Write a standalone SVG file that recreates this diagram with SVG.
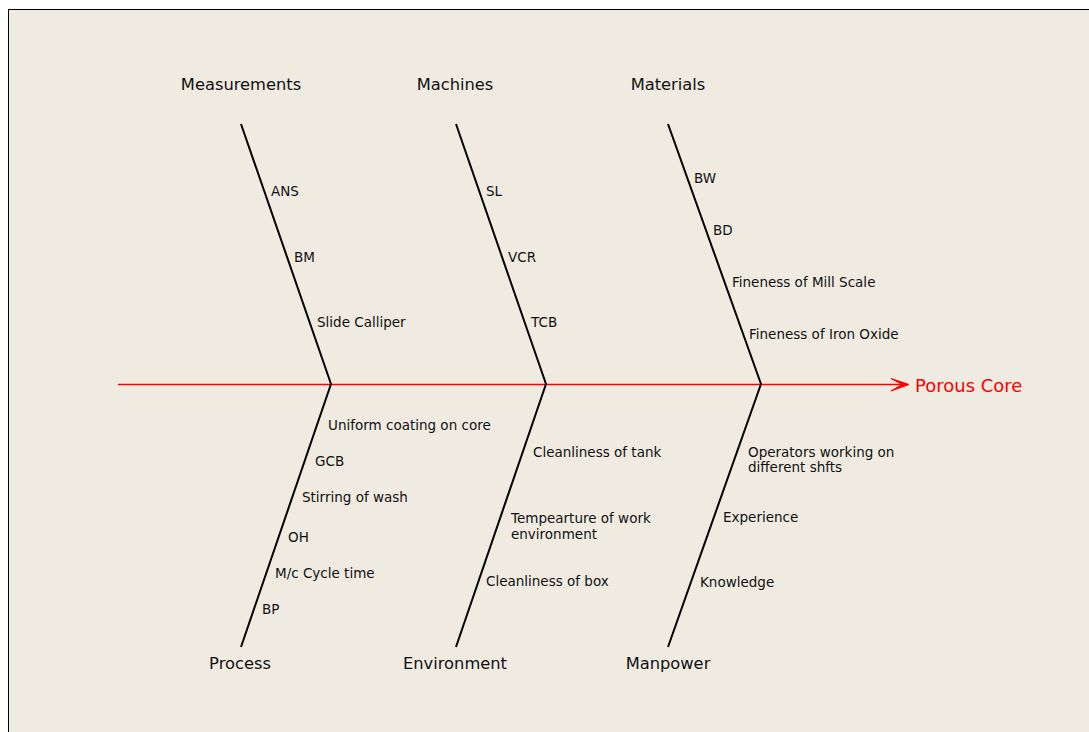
<svg xmlns="http://www.w3.org/2000/svg" width="1089" height="732" viewBox="0 0 1089 732">
<style>
.cat{font-family:"DejaVu Sans",Verdana,sans-serif;font-size:16.3px;fill:#111;text-anchor:middle}
.lbl{font-family:"DejaVu Sans",Verdana,sans-serif;font-size:13.5px;fill:#111}
.bone{stroke:#000;stroke-width:2;fill:none}
</style>
<rect x="0" y="0" width="1089" height="732" fill="#fff"/>
<rect x="8.5" y="9.5" width="1100" height="740" fill="#EFEBE1" stroke="#000" stroke-width="1"/>
<g id="connectors">
<line x1="118" y1="384.5" x2="906" y2="384.5" stroke="#FF0000" stroke-width="1.5"/>
<polygon points="891,378.5 909,384.5 891,391 902,384.5" fill="#FF0000" stroke="#FF0000" stroke-width="1"/>
<line class="bone" x1="241" y1="124" x2="331" y2="384"/>
<line class="bone" x1="456" y1="124" x2="546" y2="384"/>
<line class="bone" x1="668" y1="124" x2="761" y2="384"/>
<line class="bone" x1="331" y1="384" x2="241" y2="647"/>
<line class="bone" x1="546" y1="384" x2="456" y2="647"/>
<line class="bone" x1="761" y1="384" x2="668" y2="647"/>
</g>
<g id="effect"><text x="915" y="392" font-family="'DejaVu Sans',Verdana,sans-serif" font-size="18" fill="#FF0000">Porous Core</text></g>
<g id="measurements">
<text class="cat" x="241" y="90">Measurements</text>
<text class="lbl" x="271" y="196">ANS</text>
<text class="lbl" x="294" y="262">BM</text>
<text class="lbl" x="317" y="327">Slide Calliper</text>
</g>
<g id="machines">
<text class="cat" x="455" y="90">Machines</text>
<text class="lbl" x="486" y="196">SL</text>
<text class="lbl" x="508" y="262">VCR</text>
<text class="lbl" x="531" y="327">TCB</text>
</g>
<g id="materials">
<text class="cat" x="668" y="90">Materials</text>
<text class="lbl" x="694" y="183">BW</text>
<text class="lbl" x="713" y="235">BD</text>
<text class="lbl" x="732" y="287">Fineness of Mill Scale</text>
<text class="lbl" x="749" y="339">Fineness of Iron Oxide</text>
</g>
<g id="process">
<text class="cat" x="240" y="669">Process</text>
<text class="lbl" x="328" y="430">Uniform coating on core</text>
<text class="lbl" x="315" y="466">GCB</text>
<text class="lbl" x="302" y="502">Stirring of wash</text>
<text class="lbl" x="288" y="542">OH</text>
<text class="lbl" x="275" y="578">M/c Cycle time</text>
<text class="lbl" x="262" y="614">BP</text>
</g>
<g id="environment">
<text class="cat" x="455" y="669">Environment</text>
<text class="lbl" x="533" y="457">Cleanliness of tank</text>
<text class="lbl" x="511" y="523">Tempearture of work</text>
<text class="lbl" x="511" y="539">environment</text>
<text class="lbl" x="486" y="586">Cleanliness of box</text>
</g>
<g id="manpower">
<text class="cat" x="668" y="669">Manpower</text>
<text class="lbl" x="748" y="457">Operators working on</text>
<text class="lbl" x="748" y="472">different shfts</text>
<text class="lbl" x="723" y="522">Experience</text>
<text class="lbl" x="700" y="587">Knowledge</text>
</g>
</svg>
